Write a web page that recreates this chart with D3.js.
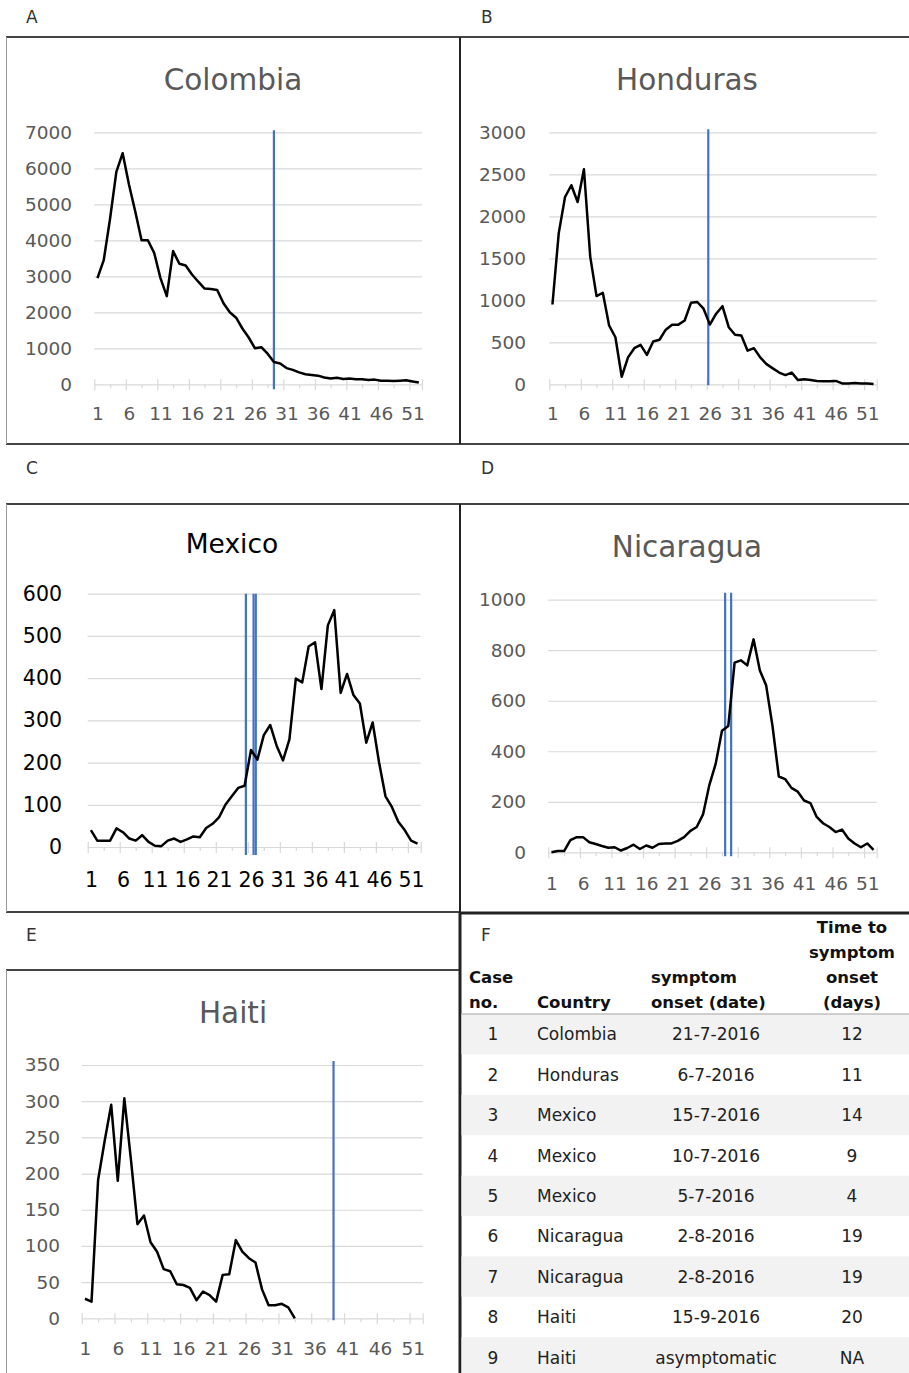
<!DOCTYPE html>
<html lang="en">
<head>
    <meta charset="UTF-8">
    <title>Weekly cases and symptom onset</title>
    <script src="https://d3js.org/d3.v7.min.js"></script>
    <style>
        body { margin: 0; background: #fff; }
        svg { display: block; }
    </style>
</head>
<body>
<svg id="fig" width="909" height="1373"></svg>
<script>
    // weekly counts, week 1..52
    const colombia = [2950, 3450, 4600, 5900, 6420, 5550, 4800, 4000, 4000, 3650,
        2950, 2450, 3700, 3350, 3300, 3050, 2850, 2660, 2650, 2620,
        2250, 2000, 1850, 1550, 1300, 1000, 1030, 850, 620, 580,
        450, 400, 330, 280, 260, 240, 190, 160, 180, 150,
        160, 140, 140, 120, 130, 100, 100, 90, 100, 110,
        80, 50];
    const honduras = [950, 1800, 2230, 2370, 2170, 2560, 1520, 1050, 1090, 700,
        560, 90, 320, 430, 470, 350, 510, 530, 650, 710,
        710, 760, 970, 980, 900, 710, 840, 930, 680, 590,
        580, 400, 430, 320, 240, 190, 140, 110, 140, 50,
        60, 50, 40, 35, 35, 40, 10, 10, 15, 10,
        10, 5];
    const mexico = [40, 15, 15, 15, 44, 35, 20, 15, 28, 12,
        3, 2, 15, 20, 12, 18, 25, 23, 45, 55,
        70, 100, 120, 140, 145, 230, 207, 265, 289, 240,
        205, 255, 399, 390, 475, 485, 374, 525, 561, 365,
        410, 360, 340, 247, 295, 200, 120, 95, 60, 40,
        15, 8];
    const nicaragua = [0, 5, 5, 48, 60, 60, 40, 33, 25, 18,
        20, 7, 17, 30, 13, 27, 18, 33, 35, 35,
        45, 60, 85, 100, 150, 266, 350, 481, 500, 751,
        760, 740, 843, 720, 660, 500, 300, 290, 255, 240,
        205, 195, 140, 115, 100, 80, 90, 55, 35, 20,
        35, 10];
    const haiti = [27, 23, 191, 245, 295, 190, 304, 220, 130, 142,
        105, 92, 68, 65, 47, 46, 42, 25, 37, 32,
        23, 60, 61, 108, 92, 83, 77, 40, 18, 18,
        20, 15, 0];

    // week of symptom onset for each case (blue lines)
    const colombiaOnset = [29];
    const hondurasOnset = [25.75];
    const mexicoOnset = [25.2, 26.4, 26.75];
    const nicaraguaOnset = [28.5, 29.45];
    const haitiOnset = [38.9];

    const weekLabels = [1, 6, 11, 16, 21, 26, 31, 36, 41, 46, 51];

    // table F
    const caseNo = [1, 2, 3, 4, 5, 6, 7, 8, 9];
    const caseCountry = ['Colombia', 'Honduras', 'Mexico', 'Mexico', 'Mexico',
        'Nicaragua', 'Nicaragua', 'Haiti', 'Haiti'];
    const onsetDate = ['21-7-2016', '6-7-2016', '15-7-2016', '10-7-2016', '5-7-2016',
        '2-8-2016', '2-8-2016', '15-9-2016', 'asymptomatic'];
    const daysToOnset = ['12', '11', '14', '9', '4', '19', '19', '20', 'NA'];

    const FONT = "'DejaVu Sans', Verdana, sans-serif";
    const GREY_TEXT = '#595959';
    const GRID = '#d9d9d9';
    const ONSET_BLUE = '#4472c4';

    const svg = d3.select('#fig');

    // ---------------- panel frames + letters ----------------
    const frame = svg.append('g').attr('fill', 'none');
    const hline = (x1, x2, yy, w, c) => frame.append('line')
        .attr('x1', x1).attr('x2', x2).attr('y1', yy).attr('y2', yy)
        .attr('stroke', c).attr('stroke-width', w);
    const vline = (xx, y1, y2, w, c) => frame.append('line')
        .attr('x1', xx).attr('x2', xx).attr('y1', y1).attr('y2', y2)
        .attr('stroke', c).attr('stroke-width', w);

    hline(6, 909, 37, 2, '#444');
    hline(6, 909, 444, 2, '#444');
    hline(6, 909, 504, 2, '#444');
    hline(6, 460, 912, 2, '#444');
    hline(460, 909, 913, 3, '#222');
    hline(6, 460, 970, 2, '#444');
    vline(6.5, 37, 444, 1, '#999');
    vline(6.5, 504, 912, 1, '#999');
    vline(6.5, 970, 1373, 1, '#999');
    vline(460, 37, 444, 2, '#222');
    vline(460, 504, 912, 2, '#222');
    vline(460, 912, 1373, 3, '#222');

    const letters = [
        {t: 'A', x: 26, y: 17}, {t: 'B', x: 481, y: 17},
        {t: 'C', x: 26, y: 468}, {t: 'D', x: 481, y: 468},
        {t: 'E', x: 26, y: 935}, {t: 'F', x: 481, y: 935}
    ];
    svg.selectAll('.letter').data(letters).enter().append('text')
        .attr('class', 'letter')
        .attr('x', d => d.x).attr('y', d => d.y)
        .attr('dy', '0.36em')
        .style('font-family', FONT).style('font-size', '17px')
        .attr('fill', '#333')
        .text(d => d.t);

    // ---------------- line charts ----------------
    const panels = [
        {name: 'Colombia', data: colombia, onset: colombiaOnset, yMax: 7000, yStep: 1000,
            left: 94.3, right: 422, top: 132.3, bottom: 384.3, labelRight: 72, titleX: 233, titleY: 90,
            xPad: 22.5, onTop: 2, onBottom: 5, dark: false},
        {name: 'Honduras', data: honduras, onset: hondurasOnset, yMax: 3000, yStep: 500,
            left: 549.3, right: 876.7, top: 132.3, bottom: 384.3, labelRight: 526, titleX: 687, titleY: 90,
            xPad: 22.5, onTop: 3, onBottom: 1, dark: false},
        {name: 'Mexico', data: mexico, onset: mexicoOnset, yMax: 600, yStep: 100,
            left: 87.7, right: 420.7, top: 593.7, bottom: 847, labelRight: 62, titleX: 232, titleY: 553,
            xPad: 25.5, onTop: 0, onBottom: 8, dark: true},
        {name: 'Nicaragua', data: nicaragua, onset: nicaraguaOnset, yMax: 1000, yStep: 200,
            left: 548.3, right: 876.7, top: 599.7, bottom: 852.3, labelRight: 526, titleX: 687, titleY: 557,
            xPad: 24.5, onTop: 7, onBottom: 4, dark: false},
        {name: 'Haiti', data: haiti, onset: haitiOnset, yMax: 350, yStep: 50,
            left: 81.7, right: 422.7, top: 1065, bottom: 1318.3, labelRight: 60, titleX: 233, titleY: 1023,
            xPad: 23.5, onTop: 4, onBottom: 2, dark: false}
    ];

    const drawPanel = (p) => {
        const g = svg.append('g').attr('class', 'panel');
        const x = d3.scaleLinear().domain([0.5, 52.5]).range([p.left, p.right]);
        const y = d3.scaleLinear().domain([0, p.yMax]).range([p.bottom, p.top]);
        const txtColor = p.dark ? '#000' : GREY_TEXT;
        const fs = p.dark ? 20.5 : 18.5;

        g.append('text')
            .attr('x', p.titleX).attr('y', p.titleY)
            .attr('text-anchor', 'middle')
            .style('font-family', FONT)
            .style('font-size', p.dark ? '26.5px' : '29.5px')
            .attr('fill', txtColor)
            .text(p.name);

        // gridlines and value labels
        g.append('g')
            .attr('transform', `translate(${p.left},0)`)
            .call(d3.axisLeft(y)
                .tickValues(d3.range(0, p.yMax + 1, p.yStep))
                .tickFormat(d3.format('d'))
                .tickSize(-(p.right - p.left))
                .tickPadding(p.left - p.labelRight))
            .call(a => a.select('.domain').remove())
            .call(a => a.selectAll('line').attr('stroke', GRID).attr('stroke-width', 1.2))
            .call(a => a.selectAll('text')
                .attr('fill', txtColor)
                .style('font-family', FONT)
                .style('font-size', fs + 'px'));

        // major ticks (cross the axis) every 5 weeks
        g.append('g')
            .attr('transform', `translate(0,${p.bottom - 5})`)
            .call(d3.axisBottom(x)
                .tickValues(d3.range(0.5, 51, 5).concat([52.5]))
                .tickSize(11).tickFormat(''))
            .call(a => a.select('.domain').remove())
            .call(a => a.selectAll('line').attr('stroke', GRID).attr('stroke-width', 1.2));

        // minor ticks
        g.append('g')
            .attr('transform', `translate(0,${p.bottom})`)
            .call(d3.axisBottom(x)
                .tickValues(d3.range(3, 50, 5))
                .tickSize(4).tickFormat(''))
            .call(a => a.select('.domain').remove())
            .call(a => a.selectAll('line').attr('stroke', GRID).attr('stroke-width', 1.2));

        // week labels
        g.append('g')
            .attr('transform', `translate(0,${p.bottom})`)
            .call(d3.axisBottom(x)
                .tickValues(weekLabels)
                .tickSize(0)
                .tickPadding(p.xPad))
            .call(a => a.select('.domain').remove())
            .call(a => a.selectAll('text')
                .attr('fill', txtColor)
                .style('font-family', FONT)
                .style('font-size', fs + 'px'));

        // onset markers
        g.selectAll('.onset')
            .data(p.onset)
            .enter()
            .append('line')
            .attr('class', 'onset')
            .attr('x1', d => x(d)).attr('x2', d => x(d))
            .attr('y1', y(p.yMax) - p.onTop)
            .attr('y2', p.bottom + p.onBottom)
            .attr('stroke', ONSET_BLUE)
            .attr('stroke-width', 2.2);

        // weekly cases
        g.append('path')
            .datum(p.data)
            .attr('fill', 'none')
            .attr('stroke', '#000')
            .attr('stroke-width', 2.5)
            .attr('stroke-linejoin', 'round')
            .attr('d', d3.line()
                .x((d, i) => x(i + 1))
                .y(d => y(d)));
    };

    panels.forEach(drawPanel);

    // ---------------- table F ----------------
    const tbl = svg.append('g').attr('class', 'table');
    const row = d3.scaleBand()
        .domain(caseNo)
        .range([1014, 1014 + caseNo.length * 40.4]);

    tbl.selectAll('.band')
        .data(caseNo.filter(d => d % 2 === 1))
        .enter()
        .append('rect')
        .attr('class', 'band')
        .attr('x', 461.5).attr('width', 448)
        .attr('y', d => row(d)).attr('height', row.bandwidth())
        .attr('fill', '#f2f2f2');

    tbl.append('line')
        .attr('x1', 461.5).attr('x2', 909)
        .attr('y1', 1014).attr('y2', 1014)
        .attr('stroke', '#bfbfbf').attr('stroke-width', 1.5);

    const headers = [
        {t: 'Case', x: 469, y: 977, a: 'start'},
        {t: 'no.', x: 469, y: 1002, a: 'start'},
        {t: 'Country', x: 537, y: 1002, a: 'start'},
        {t: 'symptom', x: 651, y: 977, a: 'start'},
        {t: 'onset (date)', x: 651, y: 1002, a: 'start'},
        {t: 'Time to', x: 852, y: 927, a: 'middle'},
        {t: 'symptom', x: 852, y: 952, a: 'middle'},
        {t: 'onset', x: 852, y: 977, a: 'middle'},
        {t: '(days)', x: 852, y: 1002, a: 'middle'}
    ];
    tbl.selectAll('.head')
        .data(headers)
        .enter()
        .append('text')
        .attr('class', 'head')
        .attr('x', d => d.x).attr('y', d => d.y)
        .attr('dy', '0.36em')
        .attr('text-anchor', d => d.a)
        .style('font-family', FONT).style('font-size', '16.5px').style('font-weight', 'bold')
        .attr('fill', '#111')
        .text(d => d.t);

    const cells = caseNo.map((c, i) => [
        {t: String(c), x: 493, a: 'middle', c},
        {t: caseCountry[i], x: 537, a: 'start', c},
        {t: onsetDate[i], x: 716, a: 'middle', c},
        {t: daysToOnset[i], x: 852, a: 'middle', c}
    ]).flat();

    tbl.selectAll('.cell')
        .data(cells)
        .enter()
        .append('text')
        .attr('class', 'cell')
        .attr('x', d => d.x)
        .attr('y', d => row(d.c) + row.bandwidth() / 2)
        .attr('dy', '0.36em')
        .attr('text-anchor', d => d.a)
        .style('font-family', FONT).style('font-size', '17px')
        .attr('fill', '#222')
        .text(d => d.t);
</script>
</body>
</html>
